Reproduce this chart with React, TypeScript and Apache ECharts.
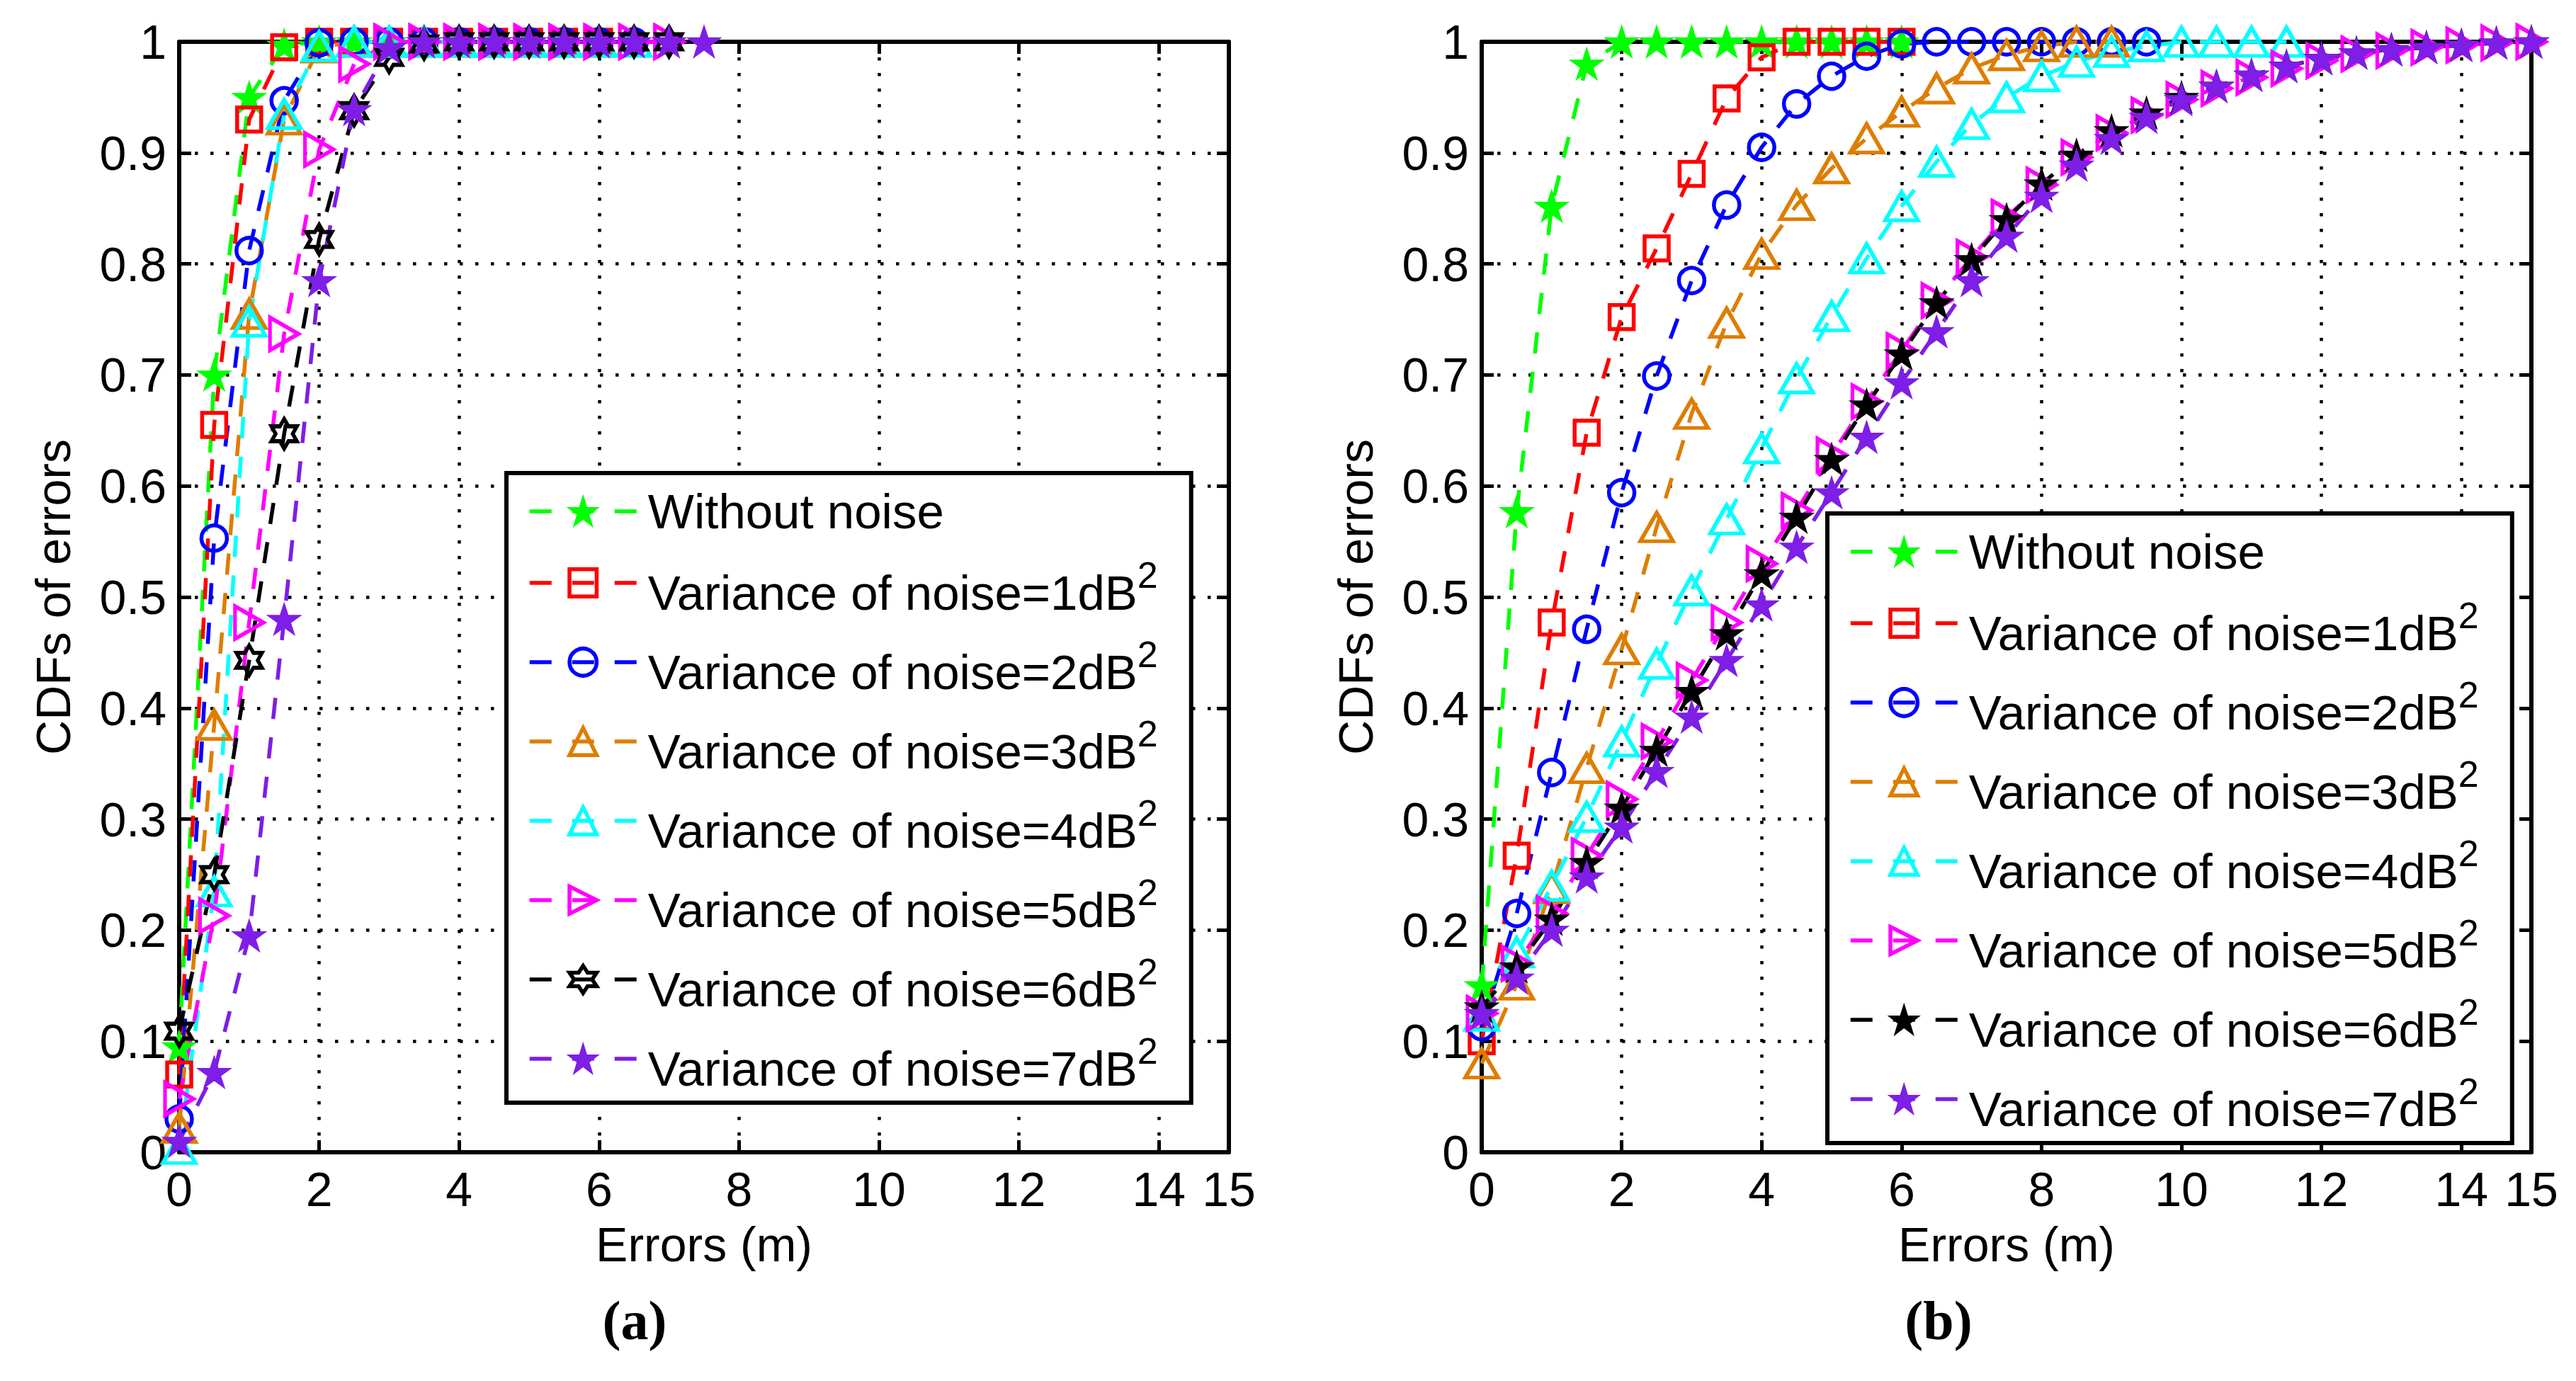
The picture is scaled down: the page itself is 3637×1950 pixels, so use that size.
import React, { useEffect, useRef } from "react";
import * as echarts from "echarts";

// x positions of the markers (m)
const xSteps = [
  0, 0.5, 1, 1.5, 2, 2.5, 3, 3.5, 4, 4.5, 5, 5.5, 6, 6.5, 7, 7.5, 8, 8.5, 9, 9.5,
  10, 10.5, 11, 11.5, 12, 12.5, 13, 13.5, 14, 14.5, 15,
];

const seriesNames = [
  "Without noise",
  "Variance of noise=1dB²",
  "Variance of noise=2dB²",
  "Variance of noise=3dB²",
  "Variance of noise=4dB²",
  "Variance of noise=5dB²",
  "Variance of noise=6dB²",
  "Variance of noise=7dB²",
];

const seriesColors = ["#00ff00", "#ff0000", "#0000ff", "#de7d00", "#00ffff", "#ff00ff", "#000000", "#7e1ee6"];

// panel (a)
const aWithout = [0.095, 0.7, 0.95, 0.997, 1, 1, 1, 1, 1, 1, 1, 1];
const aVar1 = [0.07, 0.655, 0.93, 0.995, 1, 1, 1, 1, 1, 1, 1, 1, 1];
const aVar2 = [0.03, 0.553, 0.812, 0.947, 0.999, 1, 1, 1, 1, 1, 1, 1, 1, 1];
const aVar3 = [0.022, 0.385, 0.755, 0.93, 0.995, 1, 1, 1, 1, 1, 1, 1, 1];
const aVar4 = [0.003, 0.235, 0.748, 0.935, 0.996, 1, 1, 1, 1, 1, 1, 1, 1, 1];
const aVar5 = [0.048, 0.213, 0.477, 0.737, 0.903, 0.98, 1, 1, 1, 1, 1, 1, 1, 1, 1];
const aVar6 = [0.109, 0.25, 0.443, 0.647, 0.822, 0.938, 0.986, 0.998, 1, 1, 1, 1, 1, 1, 1];
const aVar7 = [0.01, 0.072, 0.195, 0.48, 0.785, 0.939, 0.995, 1, 1, 1, 1, 1, 1, 1, 1, 1];

// panel (b)
const bWithout = [0.15, 0.577, 0.852, 0.98, 1, 1, 1, 1, 1, 1, 1, 1, 1];
const bVar1 = [0.1, 0.267, 0.477, 0.648, 0.752, 0.814, 0.881, 0.949, 0.986, 1, 1, 1, 1];
const bVar2 = [
  0.113, 0.215, 0.342, 0.471, 0.594, 0.699, 0.785, 0.853, 0.905, 0.944, 0.969, 0.987, 0.998, 1, 1, 1, 1, 1, 1, 1,
];
const bVar3 = [
  0.08, 0.151, 0.238, 0.346, 0.453, 0.563, 0.665, 0.747, 0.809, 0.853, 0.886, 0.913, 0.937, 0.958, 0.976, 0.988,
  0.996, 1, 1,
];
const bVar4 = [
  0.123, 0.18, 0.24, 0.302, 0.37, 0.44, 0.506, 0.57, 0.634, 0.697, 0.753, 0.805, 0.852, 0.892, 0.926, 0.95, 0.969,
  0.982, 0.991, 0.996, 1, 1, 1, 1,
];
const bVar5 = [
  0.125, 0.17, 0.215, 0.267, 0.318, 0.37, 0.425, 0.477, 0.53, 0.578, 0.628, 0.676, 0.722, 0.767, 0.806, 0.842, 0.871,
  0.896, 0.918, 0.934, 0.948, 0.958, 0.968, 0.976, 0.983, 0.989, 0.992, 0.995, 0.997, 0.999, 1,
];
const bVar6 = [
  0.131, 0.167, 0.21, 0.261, 0.31, 0.362, 0.415, 0.467, 0.521, 0.572, 0.624, 0.673, 0.719, 0.765, 0.804, 0.84, 0.872,
  0.898, 0.92, 0.936, 0.95, 0.96, 0.97, 0.978, 0.985, 0.99, 0.993, 0.995, 0.997, 0.999, 1,
];
const bVar7 = [
  0.125, 0.157, 0.2, 0.248, 0.293, 0.343, 0.392, 0.443, 0.493, 0.545, 0.594, 0.644, 0.693, 0.739, 0.785, 0.825, 0.861,
  0.889, 0.913, 0.932, 0.948, 0.96, 0.97, 0.978, 0.985, 0.99, 0.993, 0.995, 0.997, 0.999, 1,
];

const FONT = "'Liberation Sans', Arial, Helvetica, sans-serif";

function starPath(points: number, inner: number): string {
  const parts: string[] = [];
  for (let k = 0; k < points * 2; k++) {
    const r = k % 2 === 0 ? 1 : inner;
    const a = -Math.PI / 2 + (k * Math.PI) / points;
    parts.push(`${k === 0 ? "M" : "L"}${(Math.cos(a) * r).toFixed(4)} ${(Math.sin(a) * r).toFixed(4)}`);
  }
  return "path://" + parts.join(" ") + " Z";
}

const markers: Record<string, { symbol: string; size: number | number[]; filled: boolean }> = {
  pentagram: { symbol: starPath(5, 0.382), size: [42, 40], filled: true },
  hexagram: { symbol: starPath(6, 0.577), size: [36, 42], filled: false },
  square: { symbol: "rect", size: 34, filled: false },
  circle: { symbol: "circle", size: 36, filled: false },
  triUp: { symbol: "triangle", size: [46, 40], filled: false },
  triRight: { symbol: "path://M0 0 L1 0.5 L0 1 Z", size: [40, 46], filled: false },
};

type PanelDef = {
  values: number[][];
  markerKeys: string[];
  gridLeft: number;
  legendLeft: number;
  legendTop: number;
  caption: string;
  captionX: number;
};

const panelA: PanelDef = {
  values: [aWithout, aVar1, aVar2, aVar3, aVar4, aVar5, aVar6, aVar7],
  markerKeys: ["pentagram", "square", "circle", "triUp", "triUp", "triRight", "hexagram", "pentagram"],
  gridLeft: 253,
  legendLeft: 715,
  legendTop: 668,
  caption: "(a)",
  captionX: 896,
};

const panelB: PanelDef = {
  values: [bWithout, bVar1, bVar2, bVar3, bVar4, bVar5, bVar6, bVar7],
  markerKeys: ["pentagram", "square", "circle", "triUp", "triUp", "triRight", "pentagram", "pentagram"],
  gridLeft: 274,
  legendLeft: 762,
  legendTop: 725,
  caption: "(b)",
  captionX: 919,
};

const LINE_W = 5.5;
const axisLine = { show: true, onZero: false, lineStyle: { color: "#000", width: 6 } };
const axisTick = { show: true, inside: true, length: 17, lineStyle: { color: "#000", width: 5 } };
const gridDots = { show: true, lineStyle: { color: "#000", width: 4.5, type: [4.5, 17.5] } };
const labelStyle = { fontSize: 68, fontFamily: FONT, color: "#000" };

function buildOption(p: PanelDef): echarts.EChartsOption {
  const markerStyle = (i: number) => {
    const m = markers[p.markerKeys[i]];
    const c = seriesColors[i];
    return {
      color: m.filled ? c : "rgba(0,0,0,0)",
      borderColor: c,
      borderWidth: m.filled ? 3 : LINE_W,
    };
  };

  return {
    animation: false,
    backgroundColor: "#fff",
    grid: { left: p.gridLeft, top: 59, width: 1482, height: 1568 },
    xAxis: [
      {
        type: "value",
        position: "bottom",
        min: 0,
        max: 15,
        interval: 2,
        name: "Errors (m)",
        nameLocation: "middle",
        nameGap: 96,
        nameTextStyle: labelStyle,
        axisLine,
        axisTick,
        axisLabel: { ...labelStyle, margin: 18, showMinLabel: true, showMaxLabel: true },
        splitLine: gridDots,
      },
      {
        type: "value",
        position: "top",
        min: 0,
        max: 15,
        interval: 2,
        axisLine,
        axisTick,
        axisLabel: { show: false },
        splitLine: { show: false },
      },
    ],
    yAxis: [
      {
        type: "value",
        position: "left",
        min: 0,
        max: 1,
        interval: 0.1,
        name: "CDFs of errors",
        nameLocation: "middle",
        nameGap: 144,
        nameTextStyle: labelStyle,
        axisLine,
        axisTick,
        axisLabel: { ...labelStyle, margin: 18 },
        splitLine: gridDots,
      },
      {
        type: "value",
        position: "right",
        min: 0,
        max: 1,
        interval: 0.1,
        axisLine,
        axisTick,
        axisLabel: { show: false },
        splitLine: { show: false },
      },
    ],
    legend: {
      orient: "vertical",
      left: p.legendLeft,
      top: p.legendTop,
      padding: [16, 47, 13, 30],
      itemGap: 14,
      itemWidth: 151,
      itemHeight: 48,
      selectedMode: false,
      backgroundColor: "#fff",
      borderColor: "#000",
      borderWidth: 6,
      borderRadius: 0,
      formatter: (name: string) =>
        name.endsWith("²") ? `{m|${name.slice(0, -1)}}{s|2}` : name,
      textStyle: {
        fontSize: 69,
        fontFamily: FONT,
        color: "#000",
        lineHeight: 76,
        padding: [0, 0, 0, 11],
        rich: {
          m: { fontSize: 69, fontFamily: FONT, color: "#000", lineHeight: 98, verticalAlign: "bottom" },
          s: { fontSize: 52, fontFamily: FONT, color: "#000", verticalAlign: "top", padding: [12, 0, 0, 0] },
        },
      },
      data: seriesNames.map((name, i) => ({
        name,
        itemStyle: markerStyle(i),
        lineStyle: { color: seriesColors[i], width: LINE_W, type: [31, 29] },
      })),
    },
    series: p.values.map((ys, i) => {
      const m = markers[p.markerKeys[i]];
      return {
        type: "line",
        name: seriesNames[i],
        xAxisIndex: 0,
        yAxisIndex: 0,
        data: ys.map((y, j) => [xSteps[j], y]),
        symbol: m.symbol,
        symbolSize: m.size,
        showSymbol: true,
        clip: false,
        silent: true,
        itemStyle: markerStyle(i),
        lineStyle: { color: seriesColors[i], width: LINE_W, type: [30, 26] },
        emphasis: { disabled: true },
      };
    }),
    graphic: [
      {
        type: "text",
        x: p.captionX,
        y: 1864,
        style: {
          text: p.caption,
          fontSize: 78,
          fontWeight: "bold",
          fontFamily: "'Liberation Serif', 'Times New Roman', serif",
          fill: "#000",
          align: "center",
          verticalAlign: "middle",
        },
      },
    ],
  };
}

const Panel = ({ def, left, width }: { def: PanelDef; left: number; width: number }) => {
  const chartRef = useRef<HTMLDivElement>(null);

  useEffect(() => {
    if (!chartRef.current) return;
    const chart = echarts.init(chartRef.current, undefined, { renderer: "svg" });
    chart.setOption(buildOption(def));
    return () => chart.dispose();
  }, [def]);

  return (
    <div
      ref={chartRef}
      style={{ position: "absolute", left, top: 0, width, height: 1950 }}
    />
  );
};

const App = () => {
  useEffect(() => {
    document.body.style.margin = "0";
  }, []);

  return (
    <div style={{ position: "relative", width: 3637, height: 1950, background: "#fff", overflow: "hidden" }}>
      <Panel def={panelA} left={0} width={1818} />
      <Panel def={panelB} left={1818} width={1819} />
    </div>
  );
};

export default App;
